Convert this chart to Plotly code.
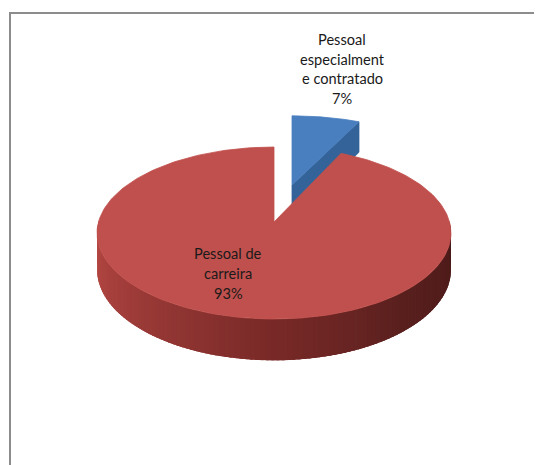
import numpy as np
import plotly.graph_objects as go

categories = ["Pessoal especialmente contratado", "Pessoal de carreira"]
values = [7, 93]
blue_label = ["Pessoal", "especialment", "e contratado", "7%"]
red_label = ["Pessoal de", "carreira", "93%"]

W, H = 542, 465
PAGE_MARGIN = 8  # the page body offsets the plot by this much
K = 0.128  # perspective strength


def project(theta, radius_fraction, apex, rx, ry, depth=0.0):
    """theta clockwise from 12 o'clock; returns canvas coordinates."""
    u = np.sin(theta) * radius_fraction
    v = np.cos(theta) * radius_fraction
    d = 1 + K * v
    return apex[0] + rx * u / d, apex[1] - ry * v / d + depth / d


def lerp_colour(t, stops):
    pos = [s[0] for s in stops]
    rgb = [np.interp(t, pos, [s[1][i] for s in stops]) for i in range(3)]
    return "rgb(%d,%d,%d)" % tuple(int(round(c)) for c in rgb)


def poly(fig, x, y, colour, lw=0.8):
    fig.add_trace(go.Scatter(
        x=list(x) + [x[0]], y=list(y) + [y[0]], mode="lines", fill="toself",
        fillcolor=colour, line=dict(color=colour, width=lw),
        hoverinfo="skip", showlegend=False))


fig = go.Figure()
total = sum(values)
cut = 2 * np.pi * values[0] / total

# Blue slice (exploded toward the back)
b_apex, b_rx, b_ry, b_depth = (292, 185), 175.5, 78, 34
bx, by = project(cut, 1, b_apex, b_rx, b_ry)
bx2, by2 = project(cut, 1, b_apex, b_rx, b_ry, b_depth)
ax2, ay2 = project(0, 0, b_apex, b_rx, b_ry, b_depth)
poly(fig, [b_apex[0], bx, bx2, ax2], [b_apex[1], by, by2, ay2], "#336399")
th = np.linspace(0, cut, 30)
tx, ty = project(th, 1, b_apex, b_rx, b_ry)
poly(fig, [b_apex[0]] + list(tx), [b_apex[1]] + list(ty), "#4a7fbf")

# Red slice
r_apex, r_rx, r_ry, r_depth = (274, 222), 175.5, 84.6, 36
stops = [(np.pi / 2, (74, 26, 25)), (3 * np.pi / 4, (88, 31, 29)), (np.pi, (122, 42, 40)),
         (5 * np.pi / 4, (158, 60, 57)), (np.radians(250), (175, 68, 64)),
         (3 * np.pi / 2, (192, 80, 77))]
edges = np.linspace(np.pi / 2 - 0.02, 3 * np.pi / 2 + 0.02, 121)
step = edges[1] - edges[0]
for a in edges[:-1][::-1]:
    # drawn back to front with overlap so no seams show between bands
    seg = np.linspace(a, min(a + step * 2.5, edges[-1]), 4)
    x1, y1 = project(seg, 1, r_apex, r_rx, r_ry)
    x2, y2 = project(seg[::-1], 1, r_apex, r_rx, r_ry, r_depth)
    poly(fig, list(x1) + list(x2), list(y1) + list(y2), lerp_colour(a + step / 2, stops), lw=0)
th = np.linspace(cut, 2 * np.pi, 240)
tx, ty = project(th, 1, r_apex, r_rx, r_ry)
poly(fig, [r_apex[0]] + list(tx), [r_apex[1]] + list(ty), "#c0504d")

font = dict(family="Lato, Open Sans, sans-serif", size=14.6, color="#1a1a1a")
for line, y in zip(blue_label, [39, 59, 78, 98]):
    fig.add_annotation(x=342, y=y, text=line, showarrow=False, font=font)
for line, y in zip(red_label, [253, 273, 293]):
    fig.add_annotation(x=228, y=y, text=line, showarrow=False, font=font)

border = dict(color="#8c8c8c", width=2)
fig.add_shape(type="line", x0=10, x1=10, y0=13, y1=H, line=border)
fig.add_shape(type="line", x0=9, x1=W, y0=13, y1=13, line=border)

fig.update_layout(
    width=W - PAGE_MARGIN, height=H - PAGE_MARGIN, margin=dict(l=0, r=0, t=0, b=0),
    paper_bgcolor="white", plot_bgcolor="white", showlegend=False,
    xaxis=dict(range=[PAGE_MARGIN, W], visible=False, fixedrange=True),
    yaxis=dict(range=[H, PAGE_MARGIN], visible=False, fixedrange=True),
)
fig.write_html("out.html", config={"displayModeBar": False})
